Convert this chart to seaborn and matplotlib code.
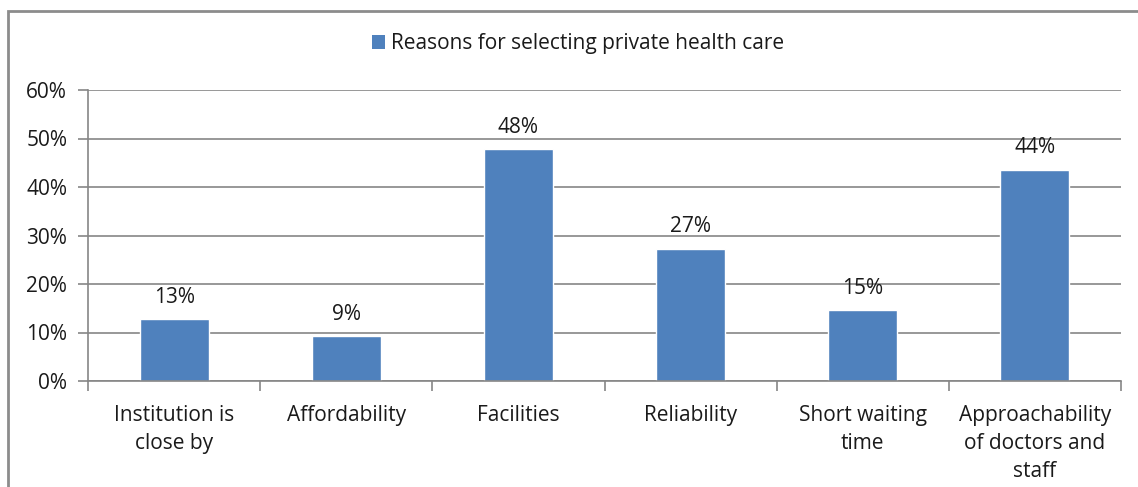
import matplotlib
matplotlib.use("Agg")
import matplotlib.pyplot as plt
import seaborn as sns
import pandas as pd
from matplotlib.patches import Rectangle
from matplotlib.ticker import FuncFormatter, MultipleLocator

categories = [
    "Institution is\nclose by",
    "Affordability",
    "Facilities",
    "Reliability",
    "Short waiting\ntime",
    "Approachability\nof doctors and\nstaff",
]
shares = [12.7, 9.2, 47.9, 27.3, 14.6, 43.6]
series_name = "Reasons for selecting private health care"

df = pd.DataFrame({"reason": categories, "share": shares, "series": series_name})

sns.set_theme(style="white")
plt.rcParams["font.family"] = ["Open Sans", "DejaVu Sans"]

bar_color = "#4F81BD"
grid_color = "#868686"
text_color = "#1a1a1a"
fs = 15

fig = plt.figure(figsize=(11.38, 4.87), dpi=100)
ax = fig.add_axes([88 / 1138, 1 - 381 / 487, (1121 - 88) / 1138, (381 - 90) / 487])

sns.barplot(data=df, x="reason", y="share", hue="series", palette=[bar_color],
            width=0.4, saturation=1, ax=ax, legend=False)

ax.set_ylim(0, 60)
ax.set_xlim(-0.5, len(categories) - 0.5)
ax.yaxis.set_major_locator(MultipleLocator(10))
ax.yaxis.set_major_formatter(FuncFormatter(lambda v, _: f"{v:.0f}%"))
ax.yaxis.grid(True, color=grid_color, linewidth=1.2)
ax.set_axisbelow(True)
ax.set_xlabel("")
ax.set_ylabel("")

for side in ("top", "right"):
    ax.spines[side].set_visible(False)
for side in ("left", "bottom"):
    ax.spines[side].set_color(grid_color)
    ax.spines[side].set_linewidth(1.2)

ax.tick_params(axis="y", which="major", left=True, length=7, width=1.2,
               color=grid_color, labelsize=fs, labelcolor=text_color, pad=8)
# category separators below the axis
ax.set_xticks([i - 0.5 for i in range(len(categories) + 1)], minor=True)
ax.tick_params(axis="x", which="minor", bottom=True, length=7, width=1.2,
               color=grid_color)
ax.tick_params(axis="x", which="major", bottom=False, labelsize=fs,
               labelcolor=text_color, pad=11)
for lbl in ax.get_xticklabels():
    lbl.set_horizontalalignment("center")
    lbl.set_linespacing(1.45)

for container in ax.containers:
    ax.bar_label(container, labels=[f"{v:.0f}%" for v in shares],
                 padding=8, fontsize=fs, color=text_color)

# legend entry above the plot
handle = Rectangle((0, 0), 1, 1, facecolor=bar_color, edgecolor="none")
fig.legend([handle], [series_name], loc="center", bbox_to_anchor=(0.508, 1 - 44 / 487),
           frameon=False, fontsize=fs, handlelength=0.65, handleheight=0.65,
           handletextpad=0.3, labelcolor=text_color)

# outer chart border
fig.patches.append(Rectangle((8 / 1138, -0.1), 1.2, 1 - 11 / 487 + 0.1,
                             transform=fig.transFigure, fill=False,
                             edgecolor="#8c8c8c", linewidth=2))

fig.savefig("out.png", dpi=100, facecolor="white")
